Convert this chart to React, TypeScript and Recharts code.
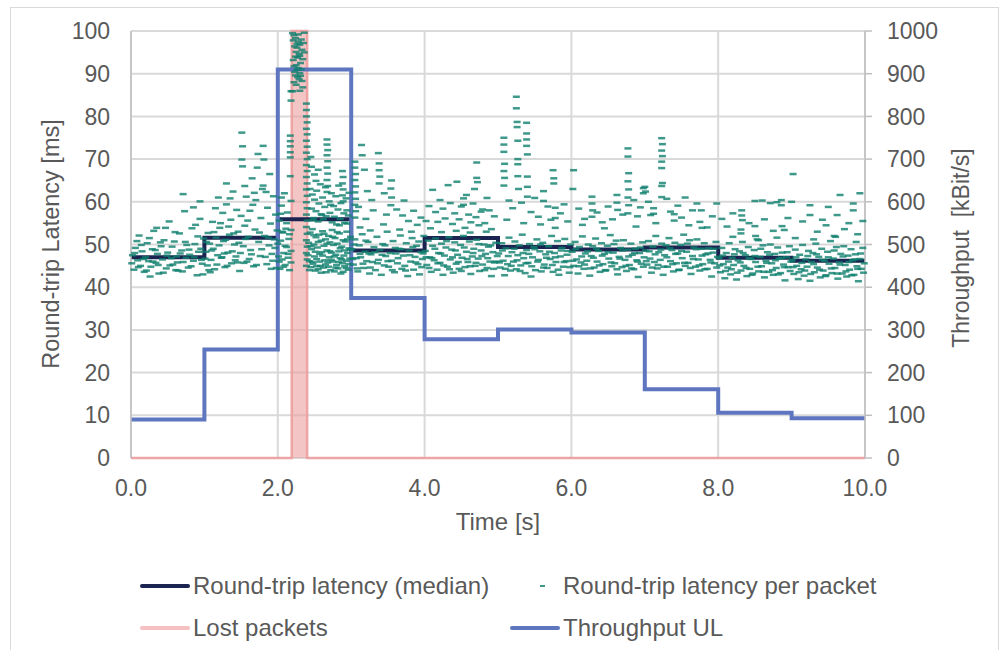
import React from 'react';
import { ComposedChart, XAxis, YAxis, CartesianGrid, Line, Area, Scatter, Legend } from 'recharts';

// ---- Data ----
const timeTicks = [0, 2, 4, 6, 8, 10];
const latencyTicks = [0, 10, 20, 30, 40, 50, 60, 70, 80, 90, 100];
const throughputTicks = [0, 100, 200, 300, 400, 500, 600, 700, 800, 900, 1000];

// median round-trip latency per second (ms), step after
const medianTimes = [0, 1, 2, 3, 4, 5, 6, 7, 8, 9, 10];
const medianValues = [47.0, 51.6, 55.9, 48.6, 51.5, 49.4, 48.8, 49.3, 46.9, 46.2, 46.2];

// uplink throughput per second (kBit/s), step after
const throughputTimes = [0, 1, 2, 3, 4, 5, 6, 7, 8, 9, 10];
const throughputValues = [90, 254, 910, 375, 278, 301, 294, 161, 106, 93, 93];

// lost packets band (ms axis, drawn as full-height band)
const lostTimes = [0, 2.19, 2.19, 2.4, 2.4, 10];
const lostValues = [0, 0, 100, 100, 0, 0];

// round-trip latency per packet: [time s, latency ms]
const packets: [number, number][] = [
  [0.02,47.5],[0.04,44.1],[0.06,49.2],[0.08,50.8],[0.09,46.3],[0.11,52.1],[0.13,45.0],[0.15,48.4],[0.18,43.6],[0.2,47.0],[0.22,50.3],[0.24,46.1],[0.26,42.5],[0.27,44.8],[0.29,48.9],[0.31,53.2],[0.34,45.7],[0.35,53.9],[0.36,47.8],[0.38,43.2],[0.41,49.6],[0.43,46.5],[0.45,51.0],[0.47,53.9],[0.48,44.4],[0.5,48.1],[0.52,55.4],[0.55,46.8],[0.57,45.3],[0.59,50.7],[0.61,44.0],[0.62,47.2],[0.64,43.9],[0.66,52.6],[0.69,48.6],[0.71,45.9],[0.71,61.8],[0.73,57.8],[0.75,46.9],[0.76,49.9],[0.78,44.6],[0.8,47.6],[0.83,53.8],[0.85,46.2],[0.85,58.7],[0.87,50.1],[0.88,54.6],[0.9,42.8],[0.92,48.3],[0.94,56.0],[0.94,60.1],[0.95,49.0],[0.97,45.5],[0.99,51.4],
  [0.01,45.6],[0.05,48.0],[0.1,44.7],[0.14,49.9],[0.17,46.6],[0.21,43.9],[0.25,51.5],[0.3,46.0],[0.33,48.7],[0.37,45.2],[0.4,50.5],[0.44,43.4],[0.49,47.4],[0.53,45.1],[0.56,49.5],[0.6,52.9],[0.63,45.8],[0.67,47.9],[0.7,43.7],[0.74,50.6],[0.79,48.8],[0.82,44.9],[0.86,47.0],[0.91,51.9],[0.96,46.4],[0.98,43.0],
  [1.02,48.3],[1.04,45.1],[1.05,52.7],[1.07,50.2],[1.08,43.5],[1.09,46.4],[1.11,55.3],[1.12,49.0],[1.14,44.2],[1.15,58.5],[1.16,51.6],[1.18,47.5],[1.19,61.0],[1.21,53.9],[1.23,46.9],[1.25,57.4],[1.26,50.8],[1.27,47.9],[1.28,44.7],[1.3,64.3],[1.3,59.4],[1.32,48.1],[1.34,52.3],[1.35,60.8],[1.36,55.8],[1.37,45.6],[1.39,62.4],[1.41,50.0],[1.43,47.2],[1.44,58.1],[1.45,45.8],[1.46,53.0],[1.48,43.8],[1.5,56.7],[1.51,76.2],[1.52,73.0],[1.51,69.9],[1.52,68.3],[1.53,49.6],[1.55,54.4],[1.55,63.7],[1.57,61.2],[1.58,46.0],[1.6,51.8],[1.61,46.6],[1.62,57.9],[1.63,48.7],[1.65,65.5],[1.66,59.3],[1.67,44.9],[1.68,62.1],[1.69,53.5],[1.7,60.4],[1.72,68.0],[1.73,71.2],[1.74,50.6],[1.76,47.3],[1.77,56.2],[1.78,48.9],[1.79,63.0],[1.8,73.1],[1.8,63.8],[1.81,69.9],[1.82,52.0],[1.84,62.3],[1.85,45.4],[1.86,58.6],[1.88,49.8],[1.89,66.5],[1.9,54.9],[1.92,47.8],[1.93,46.2],[1.94,61.3],[1.95,51.2],[1.97,57.0],[1.98,44.5],[1.99,53.3],
  [1.01,46.7],[1.03,50.6],[1.06,44.0],[1.1,48.6],[1.13,52.9],[1.17,45.3],[1.2,49.8],[1.22,55.0],[1.24,47.0],[1.29,51.1],[1.31,45.0],[1.33,54.2],[1.38,48.4],[1.4,52.6],[1.42,46.3],[1.47,50.4],[1.49,48.0],[1.54,45.7],[1.56,51.3],[1.59,55.6],[1.64,47.7],[1.71,45.2],[1.75,52.8],[1.83,47.1],[1.87,51.6],[1.91,44.3],[1.96,49.2],
  [2.01,47.2],[2.02,55.6],[2.03,44.3],[2.04,50.9],[2.05,59.1],[2.06,46.5],[2.07,52.8],[2.08,48.0],[2.09,62.0],[2.1,45.2],[2.11,53.7],[2.12,49.4],[2.13,57.5],[2.14,46.9],[2.15,51.3],[2.16,44.0],
  [2.0,50.2],[2.02,46.0],[2.04,57.2],[2.06,53.0],[2.08,44.8],[2.1,49.7],[2.12,55.0],[2.14,47.8],[2.16,52.4],[2.05,61.0],
  [2.17,75.5],[2.17,74.2],[2.17,73.0],[2.17,71.6],[2.17,70.4],[2.17,66.0],[2.18,60.2],[2.18,53.4],[2.18,48.5],[2.18,45.8],[2.18,85.9],[2.18,83.7],
  [2.2,99.5],[2.21,97.8],[2.22,99.0],[2.23,96.4],[2.24,98.3],[2.25,95.1],[2.26,97.0],[2.27,93.8],[2.28,99.2],[2.29,94.6],[2.3,96.8],[2.31,92.5],[2.32,98.0],[2.33,95.6],[2.21,93.2],[2.22,91.7],[2.23,90.4],[2.24,89.6],[2.25,92.0],[2.26,90.9],[2.27,89.2],[2.28,91.3],[2.29,88.7],[2.3,90.1],[2.31,89.5],[2.32,91.0],[2.33,88.3],[2.34,93.4],[2.24,94.0],[2.26,96.1],[2.28,97.5],[2.3,94.2],[2.22,88.0],[2.25,87.4],[2.34,86.8],[2.35,97.2],[2.36,99.6],[2.36,95.0],[2.2,85.9],[2.3,86.0],
  [2.39,83.0],[2.39,81.5],[2.39,80.0],[2.4,78.6],[2.39,77.1],[2.4,75.8],[2.39,74.3],[2.4,72.9],[2.39,71.5],[2.4,70.0],[2.39,68.6],[2.4,67.2],[2.39,65.8],[2.4,64.3],[2.39,62.9],[2.4,61.4],[2.39,59.9],[2.4,58.5],[2.39,57.0],[2.4,55.6],[2.39,54.1],[2.4,52.5],[2.39,51.0],[2.4,49.5],[2.39,48.0],[2.4,46.5],[2.39,45.0],
  [2.67,74.6],[2.67,73.4],[2.68,72.1],[2.67,70.9],[2.68,69.5],[2.67,68.0],[2.68,66.6],[2.67,65.1],[2.68,63.7],[2.67,62.3],[2.88,67.2],[2.89,65.8],[2.88,64.3],[2.89,62.9],[2.88,61.5],[2.89,60.1],[2.45,70.5],[2.46,68.2],[2.5,66.4],[2.52,64.9],[2.55,67.5],
  [2.44,63.0],[2.46,58.4],[2.47,61.7],[2.49,56.2],[2.5,60.5],[2.52,57.8],[2.53,62.6],[2.55,55.4],[2.56,59.6],[2.58,64.1],[2.59,57.1],[2.61,61.0],[2.62,55.9],[2.64,58.8],[2.65,63.4],[2.66,56.6],[2.7,60.1],[2.71,57.4],[2.73,62.0],[2.74,55.2],[2.76,59.0],[2.77,56.5],[2.79,61.3],[2.8,54.7],[2.82,58.2],[2.83,63.8],[2.85,56.0],[2.86,59.7],[2.9,57.3],[2.91,55.1],[2.93,60.8],[2.94,58.0],[2.96,56.8],[2.97,62.1],
  [2.42,50.4],[2.43,46.1],[2.44,52.8],[2.45,44.7],[2.46,48.9],[2.47,53.6],[2.48,45.5],[2.49,50.0],[2.5,47.2],[2.51,43.9],[2.52,51.7],[2.53,46.6],[2.54,49.3],[2.55,44.2],[2.56,52.3],[2.57,47.8],[2.58,45.0],[2.59,50.9],[2.6,48.2],[2.61,53.1],[2.62,44.6],[2.63,49.7],[2.64,46.3],[2.65,51.2],[2.66,43.5],[2.67,48.6],[2.68,45.8],[2.69,52.0],[2.7,47.0],[2.71,50.5],[2.72,44.0],[2.73,48.1],[2.74,53.4],[2.75,46.0],[2.76,49.9],[2.77,43.7],[2.78,51.5],[2.79,47.6],[2.8,45.2],[2.81,50.2],[2.82,44.4],[2.83,48.4],[2.84,52.6],[2.85,46.8],[2.86,43.2],[2.87,49.5],[2.88,45.6],[2.89,51.0],[2.9,47.4],[2.91,44.9],[2.92,50.7],[2.93,46.2],[2.94,53.0],[2.95,48.0],[2.96,44.1],[2.97,49.1],[2.98,46.7],[2.99,51.8],
  [2.41,47.5],[2.43,44.0],[2.45,49.6],[2.47,45.9],[2.49,52.2],[2.51,48.3],[2.53,44.9],[2.55,50.6],[2.57,46.0],[2.59,43.4],[2.61,47.4],[2.63,52.5],[2.65,45.3],[2.67,50.2],[2.69,44.8],[2.71,48.4],[2.73,46.4],[2.75,51.8],[2.77,47.2],[2.79,44.6],[2.81,52.9],[2.83,45.9],[2.85,49.1],[2.87,46.5],[2.89,43.6],[2.91,48.6],[2.93,44.5],[2.95,51.2],[2.97,45.4],[2.99,48.8],[2.6,56.9],[2.72,59.3],[2.84,54.5],[2.48,55.7],[2.94,54.9],
  [3.05,69.4],[3.05,68.0],[3.06,66.5],[3.05,65.1],[3.06,63.6],[3.05,62.2],[3.06,60.7],[3.05,59.3],[3.06,57.8],[3.05,56.3],[3.14,73.3],[3.15,70.9],[3.18,67.5],[3.37,71.4],[3.38,69.0],[3.38,67.4],[3.39,65.9],[3.38,64.3],[3.55,65.0],[3.54,63.1],[3.55,61.0],[3.54,59.2],[3.22,62.5],[3.28,60.4],[3.3,58.0],[3.45,62.0],[3.62,58.2],[3.7,56.8],[3.72,60.3],[3.78,55.5],[3.85,57.9],[3.9,54.6],[3.95,56.3],[3.48,57.0],[3.1,58.8],[3.2,56.0],
  [3.01,48.9],[3.03,45.3],[3.05,51.2],[3.07,46.8],[3.09,43.7],[3.11,49.8],[3.13,47.0],[3.15,52.4],[3.17,44.5],[3.19,48.3],[3.21,46.1],[3.23,50.6],[3.25,43.2],[3.27,47.7],[3.29,45.9],[3.31,49.4],[3.33,44.0],[3.35,51.8],[3.37,46.4],[3.39,48.7],[3.41,42.9],[3.43,50.1],[3.45,45.1],[3.47,47.3],[3.49,53.0],[3.51,44.8],[3.53,48.0],[3.55,46.2],[3.57,50.8],[3.59,43.5],[3.61,47.9],[3.63,45.6],[3.65,49.0],[3.67,52.1],[3.69,44.3],[3.71,47.4],[3.73,45.0],[3.75,50.3],[3.77,42.6],[3.79,48.6],[3.81,46.0],[3.83,51.5],[3.85,44.1],[3.87,47.1],[3.89,49.7],[3.91,45.4],[3.93,43.0],[3.95,48.2],[3.97,46.6],[3.99,52.0],
  [3.02,46.6],[3.04,50.0],[3.08,44.4],[3.12,47.8],[3.16,45.5],[3.2,50.9],[3.24,47.9],[3.26,44.6],[3.32,48.2],[3.36,45.6],[3.42,47.6],[3.46,49.8],[3.5,46.1],[3.56,44.0],[3.6,49.2],[3.64,46.8],[3.68,48.9],[3.74,43.9],[3.8,47.5],[3.84,49.4],[3.88,45.8],[3.92,50.7],[3.96,44.7],[3.98,47.9],[3.12,54.0],[3.26,53.3],[3.44,54.7],[3.66,53.5],[3.82,53.0],
  [4.11,62.8],[4.21,60.4],[4.32,63.9],[4.44,64.7],[4.71,69.2],[4.71,65.6],[4.72,64.6],[4.68,63.0],[4.57,61.6],[4.53,60.8],[4.53,59.3],[4.85,60.9],[4.79,58.2],[4.06,59.0],[4.15,57.6],[4.18,55.3],[4.25,58.4],[4.28,56.1],[4.35,59.7],[4.38,54.8],[4.41,57.3],[4.47,55.9],[4.5,58.9],[4.55,53.9],[4.6,57.0],[4.63,55.2],[4.66,59.6],[4.7,56.4],[4.74,54.5],[4.77,57.7],[4.82,55.0],[4.88,58.0],[4.91,53.6],[4.95,56.6],[4.02,55.5],[4.08,53.8],[4.23,52.9],[4.43,53.2],[4.62,52.8],[4.84,53.0],
  [4.01,48.5],[4.03,45.2],[4.05,50.9],[4.07,47.0],[4.09,43.6],[4.11,49.7],[4.13,46.3],[4.15,51.4],[4.17,44.1],[4.19,48.0],[4.21,45.7],[4.23,50.2],[4.25,42.9],[4.27,47.4],[4.29,49.3],[4.31,44.8],[4.33,51.7],[4.35,46.5],[4.37,48.8],[4.39,43.4],[4.41,50.5],[4.43,45.5],[4.45,47.6],[4.47,44.3],[4.49,49.9],[4.51,46.9],[4.53,52.0],[4.55,44.7],[4.57,48.3],[4.59,45.9],[4.61,50.7],[4.63,43.1],[4.65,47.2],[4.67,49.0],[4.69,45.0],[4.71,51.1],[4.73,46.7],[4.75,43.8],[4.77,48.6],[4.79,45.3],[4.81,50.0],[4.83,47.8],[4.85,44.5],[4.87,49.5],[4.89,46.0],[4.91,42.6],[4.93,48.2],[4.95,45.8],[4.97,50.4],[4.99,47.3],
  [4.02,47.0],[4.06,44.5],[4.1,46.8],[4.14,49.0],[4.18,45.6],[4.22,47.9],[4.26,45.1],[4.3,50.8],[4.34,44.2],[4.38,47.0],[4.42,48.6],[4.46,45.9],[4.5,43.8],[4.54,49.3],[4.58,46.6],[4.62,44.9],[4.66,48.0],[4.7,45.7],[4.74,50.1],[4.78,47.3],[4.82,44.0],[4.86,46.8],[4.9,49.8],[4.94,44.3],[4.98,46.0],
  [5.08,75.0],[5.08,73.4],[5.08,71.7],[5.09,68.9],[5.08,67.2],[5.09,65.6],[5.08,63.8],[5.25,84.6],[5.25,81.9],[5.26,78.7],[5.26,77.5],[5.27,74.3],[5.27,70.0],[5.27,68.8],[5.39,78.5],[5.39,76.0],[5.39,74.6],[5.39,73.1],[5.4,71.1],[5.4,65.9],[5.4,63.5],[5.4,61.2],[5.27,66.0],[5.28,63.0],[5.75,67.4],[5.76,65.5],[5.76,64.3],[5.62,62.5],[5.62,60.2],[5.78,58.6],[5.78,56.2],[5.78,53.9],[5.15,60.3],[5.2,58.5],[5.32,59.8],[5.45,57.6],[5.5,60.9],[5.55,56.5],[5.68,58.9],[5.85,57.3],[5.9,59.4],[5.95,55.4],[5.12,55.8],[5.35,55.0],[5.58,54.7],[5.72,55.8],
  [5.01,47.9],[5.03,44.6],[5.05,50.3],[5.07,46.2],[5.09,42.8],[5.11,49.1],[5.13,45.4],[5.15,51.6],[5.17,43.9],[5.19,48.2],[5.21,46.0],[5.23,50.7],[5.25,44.2],[5.27,47.5],[5.29,49.8],[5.31,45.1],[5.33,52.3],[5.35,46.8],[5.37,43.3],[5.39,48.7],[5.41,45.7],[5.43,50.1],[5.45,42.5],[5.47,47.0],[5.49,49.4],[5.51,44.0],[5.53,51.2],[5.55,46.4],[5.57,48.4],[5.59,43.7],[5.61,50.4],[5.63,45.3],[5.65,47.7],[5.67,44.5],[5.69,49.6],[5.71,46.6],[5.73,52.0],[5.75,43.6],[5.77,48.0],[5.79,45.9],[5.81,50.8],[5.83,42.9],[5.85,47.2],[5.87,49.2],[5.89,44.8],[5.91,51.3],[5.93,46.1],[5.95,48.5],[5.97,43.4],[5.99,50.0],
  [5.02,45.8],[5.06,48.6],[5.1,44.3],[5.14,47.3],[5.18,45.0],[5.22,49.0],[5.26,46.3],[5.3,43.8],[5.34,48.0],[5.38,45.6],[5.42,47.8],[5.46,44.9],[5.5,48.9],[5.54,46.0],[5.58,50.0],[5.62,44.6],[5.66,46.9],[5.7,48.3],[5.74,45.2],[5.78,47.0],[5.82,44.1],[5.86,48.6],[5.9,45.9],[5.94,47.6],[5.98,44.7],
  [6.03,67.4],[6.02,63.0],[6.28,61.2],[6.28,59.6],[6.29,58.0],[6.28,56.5],[6.77,72.5],[6.77,70.6],[6.78,66.7],[6.77,64.8],[6.78,62.9],[6.77,61.0],[6.78,59.2],[6.77,57.3],[6.62,61.6],[6.62,59.8],[6.63,58.1],[6.98,63.2],[6.98,62.0],[6.1,58.4],[6.18,56.0],[6.35,57.5],[6.42,55.2],[6.5,58.9],[6.56,55.9],[6.7,57.0],[6.85,60.4],[6.9,56.6],[6.94,58.7],[6.15,54.6],[6.45,53.8],[6.88,54.2],
  [6.01,48.3],[6.03,45.0],[6.05,50.6],[6.07,46.5],[6.09,43.2],[6.11,49.4],[6.13,45.8],[6.15,51.9],[6.17,44.3],[6.19,47.9],[6.21,46.2],[6.23,50.0],[6.25,42.7],[6.27,47.3],[6.29,49.6],[6.31,44.6],[6.33,51.4],[6.35,46.0],[6.37,48.5],[6.39,43.6],[6.41,50.3],[6.43,45.4],[6.45,47.8],[6.47,44.0],[6.49,49.7],[6.51,46.7],[6.53,52.2],[6.55,44.9],[6.57,48.1],[6.59,45.6],[6.61,50.9],[6.63,43.0],[6.65,47.1],[6.67,49.2],[6.69,44.7],[6.71,51.0],[6.73,46.4],[6.75,43.8],[6.77,48.8],[6.79,45.2],[6.81,50.2],[6.83,47.6],[6.85,44.2],[6.87,49.0],[6.89,46.3],[6.91,42.4],[6.93,48.0],[6.95,45.5],[6.97,50.5],[6.99,47.0],
  [6.02,46.2],[6.06,48.9],[6.1,44.9],[6.14,47.2],[6.18,45.3],[6.22,48.4],[6.26,44.4],[6.3,46.9],[6.34,49.0],[6.38,45.1],[6.42,47.4],[6.46,43.9],[6.5,48.2],[6.54,45.8],[6.58,50.1],[6.62,44.2],[6.66,46.7],[6.7,48.6],[6.74,45.0],[6.78,47.2],[6.82,44.4],[6.86,48.0],[6.9,46.0],[6.94,49.3],[6.98,44.8],
  [7.0,63.5],[7.01,62.4],[7.23,74.9],[7.24,73.5],[7.23,72.0],[7.24,70.7],[7.23,69.4],[7.23,67.9],[7.24,64.4],[7.23,63.7],[7.12,58.5],[7.12,57.2],[7.23,61.1],[7.05,60.0],[7.08,56.9],[7.15,55.0],[7.3,60.7],[7.35,57.7],[7.4,55.6],[7.45,59.1],[7.5,56.3],[7.55,61.0],[7.6,54.5],[7.65,58.0],[7.71,59.6],[7.75,55.3],[7.77,58.0],[7.78,53.9],[7.85,54.0],[7.92,56.6],[7.98,59.6],[7.4,57.1],
  [7.01,48.6],[7.03,45.3],[7.05,50.8],[7.07,46.7],[7.09,43.4],[7.11,49.5],[7.13,45.9],[7.15,52.0],[7.17,44.4],[7.19,48.2],[7.21,46.4],[7.23,50.2],[7.25,42.9],[7.27,47.5],[7.29,49.8],[7.31,44.8],[7.33,51.5],[7.35,46.1],[7.37,48.7],[7.39,43.7],[7.41,50.4],[7.43,45.6],[7.45,47.9],[7.47,44.1],[7.49,49.9],[7.51,46.8],[7.53,52.3],[7.55,45.0],[7.57,48.3],[7.59,45.7],[7.61,51.0],[7.63,43.1],[7.65,47.3],[7.67,49.3],[7.69,44.8],[7.71,51.2],[7.73,46.5],[7.75,43.9],[7.77,49.0],[7.79,45.4],[7.81,50.3],[7.83,47.7],[7.85,44.3],[7.87,49.1],[7.89,46.4],[7.91,42.5],[7.93,48.1],[7.95,45.6],[7.97,50.6],[7.99,47.1],
  [7.02,46.1],[7.06,48.4],[7.1,44.6],[7.14,47.7],[7.18,45.2],[7.22,48.8],[7.26,44.8],[7.3,47.0],[7.34,49.1],[7.38,45.4],[7.42,47.8],[7.46,44.0],[7.5,48.5],[7.54,45.7],[7.58,50.2],[7.62,44.5],[7.66,46.6],[7.7,48.9],[7.74,45.1],[7.78,47.4],[7.82,44.2],[7.86,47.9],[7.9,45.8],[7.94,49.0],[7.98,44.6],
  [8.05,56.0],[8.12,54.2],[8.2,57.3],[8.32,58.0],[8.32,56.8],[8.33,55.7],[8.31,53.5],[8.31,52.6],[8.42,55.0],[8.5,60.2],[8.5,54.3],[8.51,52.0],[8.6,60.3],[8.63,55.9],[8.71,59.7],[8.75,53.2],[8.8,59.9],[8.86,60.4],[8.86,59.2],[8.87,54.3],[8.9,53.4],[8.95,56.2],
  [8.01,46.8],[8.03,43.5],[8.05,49.2],[8.07,45.4],[8.09,42.1],[8.11,48.0],[8.13,44.6],[8.15,50.3],[8.17,43.0],[8.19,46.9],[8.21,45.2],[8.23,48.9],[8.25,41.8],[8.27,46.3],[8.29,48.4],[8.31,43.9],[8.33,50.6],[8.35,45.0],[8.37,47.5],[8.39,42.6],[8.41,49.4],[8.43,44.3],[8.45,46.6],[8.47,43.2],[8.49,48.7],[8.51,45.9],[8.53,51.2],[8.55,43.7],[8.57,47.1],[8.59,44.9],[8.61,49.8],[8.63,42.3],[8.65,46.2],[8.67,48.2],[8.69,43.6],[8.71,50.0],[8.73,45.6],[8.75,42.9],[8.77,47.8],[8.79,44.5],[8.81,49.3],[8.83,46.7],[8.85,43.3],[8.87,48.1],[8.89,45.3],[8.91,41.6],[8.93,47.0],[8.95,44.7],[8.97,49.6],[8.99,46.0],
  [8.02,45.1],[8.06,47.4],[8.1,43.8],[8.14,46.0],[8.18,44.2],[8.22,47.7],[8.26,43.4],[8.3,45.8],[8.34,48.0],[8.38,44.5],[8.42,46.8],[8.46,42.9],[8.5,47.3],[8.54,44.8],[8.58,49.0],[8.62,43.6],[8.66,45.7],[8.7,47.6],[8.74,44.0],[8.78,46.3],[8.82,43.0],[8.86,46.9],[8.9,44.7],[8.94,48.2],[8.98,43.8],[8.2,51.8],[8.55,51.0],[8.8,51.6],
  [9.02,66.5],[9.0,60.0],[9.05,51.5],[9.15,55.4],[9.25,59.2],[9.25,56.9],[9.35,53.0],[9.42,55.8],[9.5,58.8],[9.47,54.5],[9.58,52.0],[9.62,56.9],[9.66,61.6],[9.72,53.6],[9.78,55.0],[9.84,59.6],[9.84,58.0],[9.9,52.4],[9.93,62.0],[9.97,55.5],
  [9.01,46.4],[9.03,43.1],[9.05,48.8],[9.07,45.0],[9.09,41.9],[9.11,47.6],[9.13,44.2],[9.15,49.9],[9.17,42.7],[9.19,46.5],[9.21,44.8],[9.23,48.5],[9.25,41.5],[9.27,45.9],[9.29,48.0],[9.31,43.5],[9.33,50.2],[9.35,44.6],[9.37,47.1],[9.39,42.3],[9.41,49.0],[9.43,43.9],[9.45,46.2],[9.47,42.8],[9.49,48.3],[9.51,45.5],[9.53,50.8],[9.55,43.3],[9.57,46.7],[9.59,44.5],[9.61,49.4],[9.63,42.0],[9.65,45.8],[9.67,47.8],[9.69,43.2],[9.71,49.6],[9.73,45.2],[9.75,42.5],[9.77,47.4],[9.79,44.1],[9.81,48.9],[9.83,46.3],[9.85,42.9],[9.87,47.7],[9.89,44.9],[9.91,41.4],[9.93,46.6],[9.95,44.3],[9.97,49.2],[9.99,45.6],
  [9.02,44.7],[9.06,47.0],[9.1,43.5],[9.14,45.7],[9.18,43.9],[9.22,47.3],[9.26,43.1],[9.3,45.4],[9.34,47.7],[9.38,44.1],[9.42,46.4],[9.46,42.6],[9.5,47.0],[9.54,44.4],[9.58,48.6],[9.62,43.2],[9.66,45.3],[9.7,47.2],[9.74,43.7],[9.78,45.9],[9.82,42.8],[9.86,46.5],[9.9,44.3],[9.94,47.9],[9.98,43.4],[9.3,51.2],[9.6,51.8],[9.88,50.6],
];

// ---- derived tables for the library ----
const medianData = medianTimes.map((t, i) => ({ t, v: medianValues[i] }));
const throughputData = throughputTimes.map((t, i) => ({ t, v: throughputValues[i] }));
const lostData = lostTimes.map((t, i) => ({ t, v: lostValues[i] }));
const packetData = packets.map(([t, v]) => ({ t, v }));

const FONT = '"Liberation Sans", Arial, sans-serif';
const TXT = '#595959';
const GRID = '#d9d9d9';
const C_MEDIAN = '#1b2350';
const C_PACKET = '#0f7f6e';
const C_LOST = '#ec9e9e';
const C_TP = '#5d76bf';

const DashShape = (props: any) => {
  const { cx, cy } = props;
  if (cx == null || cy == null) return null;
  return <rect x={cx - 3.5} y={cy - 1.25} width={7} height={2.5} fill={C_PACKET} fillOpacity={0.8} />;
};

const LegendContent = () => {
  const item: React.CSSProperties = { position: 'absolute', display: 'flex', alignItems: 'center', whiteSpace: 'nowrap', fontFamily: FONT, fontSize: 24, color: TXT, lineHeight: '26px' };
  const line = (c: string) => <span style={{ display: 'inline-block', width: 50, height: 4, background: c, marginRight: 3, borderRadius: 2 }} />;
  return (
    <div style={{ position: 'relative', width: 1006, height: 80 }}>
      <div style={{ ...item, left: 140, top: 8 }}>{line(C_MEDIAN)}Round-trip latency (median)</div>
      <div style={{ ...item, left: 540, top: 8 }}>
        <span style={{ display: 'inline-block', width: 5, height: 2, background: C_PACKET, marginRight: 18, opacity: 0.8 }} />
        Round-trip latency per packet
      </div>
      <div style={{ ...item, left: 140, top: 50 }}>{line('#f4c0c0')}Lost packets</div>
      <div style={{ ...item, left: 510, top: 50 }}>{line(C_TP)}Throughput UL</div>
    </div>
  );
};

export default function App() {
  return (
    <div style={{ position: 'absolute', left: 0, top: 0, width: 1006, height: 650, overflow: 'hidden', background: '#fff' }}>
      <div style={{ position: 'absolute', left: 10, top: 7, width: 989, height: 700, border: '1.5px solid #d9d9d9', boxSizing: 'border-box' }} />
      <ComposedChart
        width={1006}
        height={650}
        margin={{ top: 31, right: 0, bottom: 92, left: 0 }}
        style={{ position: 'absolute', left: 0, top: 0 }}
      >
        <CartesianGrid yAxisId="left" xAxisId="x" stroke={GRID} strokeWidth={2} />
        <XAxis
          xAxisId="x"
          dataKey="t"
          type="number"
          domain={[0, 10]}
          ticks={timeTicks}
          tickFormatter={(v: number) => v.toFixed(1)}
          height={100}
          tickLine={false}
          axisLine={false}
          tickSize={6}
          tickMargin={16}
          tick={{ fill: TXT, fontSize: 23, fontFamily: FONT }}
          label={{
            content: () => (
              <text x={498} y={530} textAnchor="middle" fill={TXT} fontSize={24} fontFamily={FONT}>Time [s]</text>
            ),
          }}
        />
        <YAxis
          yAxisId="left"
          type="number"
          domain={[0, 100]}
          ticks={latencyTicks}
          width={131}
          tickLine={false}
          axisLine={{ stroke: '#bfbfbf', strokeWidth: 1.5 }}
          tickSize={6}
          tickMargin={15}
          tick={{ fill: TXT, fontSize: 23, fontFamily: FONT }}
          label={{
            content: () => (
              <text x={59} y={244} transform="rotate(-90 59 244)" textAnchor="middle" fill={TXT} fontSize={23.5} fontFamily={FONT}>Round-trip Latency [ms]</text>
            ),
          }}
        />
        <YAxis
          yAxisId="right"
          orientation="right"
          type="number"
          domain={[0, 1000]}
          ticks={throughputTicks}
          width={141}
          tickLine={{ stroke: '#bfbfbf', strokeWidth: 1.5 }}
          axisLine={{ stroke: '#bfbfbf', strokeWidth: 1.5 }}
          tickSize={7}
          tickMargin={15}
          tick={{ fill: TXT, fontSize: 23, fontFamily: FONT, textAnchor: 'start' }}
          label={{
            content: () => (
              <text x={969} y={248} transform="rotate(-90 969 248)" textAnchor="middle" fill={TXT} fontSize={23} fontFamily={FONT} style={{ whiteSpace: 'pre' }}>{'Throughput  [kBit/s]'}</text>
            ),
          }}
        />
        <Line
          xAxisId="x"
          yAxisId="left"
          data={medianData}
          dataKey="v"
          type="stepAfter"
          stroke={C_MEDIAN}
          strokeWidth={4}
          dot={false}
          activeDot={false}
          isAnimationActive={false}
          name="Round-trip latency (median)"
        />
        <Area
          xAxisId="x"
          yAxisId="left"
          data={lostData}
          dataKey="v"
          type="linear"
          stroke={C_LOST}
          strokeOpacity={0.9}
          strokeWidth={2.5}
          fill={C_LOST}
          fillOpacity={0.6}
          dot={false}
          activeDot={false}
          isAnimationActive={false}
          name="Lost packets"
        />
        <Scatter
          xAxisId="x"
          yAxisId="left"
          data={packetData}
          dataKey="v"
          shape={DashShape}
          isAnimationActive={false}
          name="Round-trip latency per packet"
        />
        <Line
          xAxisId="x"
          yAxisId="right"
          data={throughputData}
          dataKey="v"
          type="stepAfter"
          stroke={C_TP}
          strokeWidth={4}
          dot={false}
          activeDot={false}
          isAnimationActive={false}
          name="Throughput UL"
        />
        <Legend
          layout="horizontal"
          verticalAlign="middle"
          align="center"
          wrapperStyle={{ position: 'absolute', left: 0, top: 565, width: 1006, height: 80 }}
          content={LegendContent}
        />
      </ComposedChart>
    </div>
  );
}
